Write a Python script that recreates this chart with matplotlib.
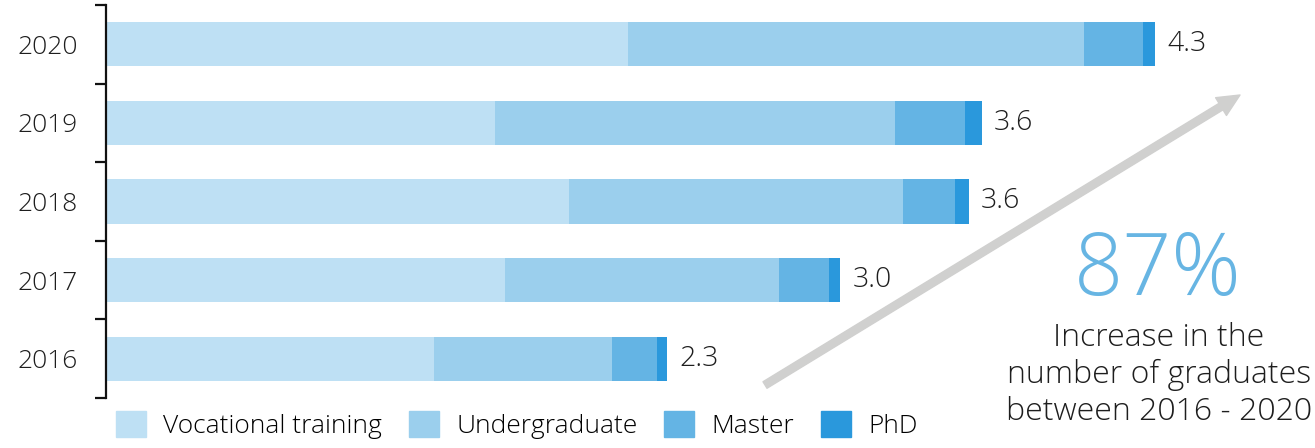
import matplotlib
matplotlib.use("Agg")
import matplotlib.pyplot as plt
import matplotlib.patches as mpatches
import numpy as np

plt.rcParams['font.family'] = ['Open Sans', 'DejaVu Sans']
plt.rcParams['font.weight'] = 'light'

# ---------------------------------------------------------------------
# data (graduates)
# ---------------------------------------------------------------------
years = ["2016", "2017", "2018", "2019", "2020"]
vocational = [1.345, 1.636, 1.898, 1.595, 2.140]
undergraduate = [0.728, 1.123, 1.369, 1.640, 1.869]
master = [0.186, 0.205, 0.213, 0.287, 0.242]
phd = [0.041, 0.045, 0.057, 0.068, 0.049]
totals = ["2.3", "3.0", "3.6", "3.6", "4.3"]

series_names = ["Vocational training", "Undergraduate", "Master", "PhD"]
colors = ["#bee0f4", "#9bcfed", "#64b4e4", "#2a98dc"]

W, H = 1315, 448
fig = plt.figure(figsize=(W / 100, H / 100), dpi=100)
ax = fig.add_axes([106 / W, 50 / H, (W - 106) / W, 393 / H])

y = np.arange(len(years))
left = np.zeros(len(years))
for vals, col in zip([vocational, undergraduate, master, phd], colors):
    ax.barh(y, vals, left=left, height=0.56, color=col, edgecolor='none')
    left = left + np.array(vals)

for yi, end, lab in zip(y, left, totals):
    ax.text(end + 0.05, yi, lab, va='center', ha='left', fontsize=20.5, color='#1e1e1e')

ax.set_xlim(0, (W - 106) / 243.95)
ax.set_ylim(-0.5, len(years) - 0.5)

# axis with bracket-like ticks between categories
for s in ['top', 'right', 'bottom']:
    ax.spines[s].set_visible(False)
ax.spines['left'].set_linewidth(1.6)
ax.spines['left'].set_color('#111111')
ax.set_xticks([])
ax.set_yticks(np.arange(-0.5, len(years), 1.0))
ax.set_yticklabels([])
ax.tick_params(axis='y', which='major', length=8, width=1.6, color='#111111')
ax.set_yticks(y, minor=True)
ax.set_yticklabels(years, minor=True)
ax.tick_params(axis='y', which='minor', length=0, pad=20, labelsize=19, labelcolor='#1e1e1e')

# growth arrow
ax.annotate("", xy=(1240, H - 95), xytext=(765, H - 385),
            xycoords='figure pixels', textcoords='figure pixels',
            arrowprops=dict(width=5.5, headwidth=15, headlength=16,
                            color='#d0d0cf', shrink=0))

fig.text(1158 / W, 1 - 273 / H, "87%", ha='center', va='center',
         fontsize=62, color='#67b5e3')
fig.text(1159 / W, 1 - 375 / H, "Increase in the\nnumber of graduates\nbetween 2016 - 2020",
         ha='center', va='center', fontsize=23, color='#1e1e1e', linespacing=1.22)

handles = [mpatches.Patch(color=c, label=n) for c, n in zip(colors, series_names)]
fig.legend(handles=handles, loc='center left', bbox_to_anchor=(116 / W, 1 - 425 / H),
           ncol=4, frameon=False, fontsize=19, handlelength=1.15, handleheight=1.15,
           handletextpad=0.65, columnspacing=1.0, borderaxespad=0, borderpad=0)

fig.savefig("out.png", dpi=100)
